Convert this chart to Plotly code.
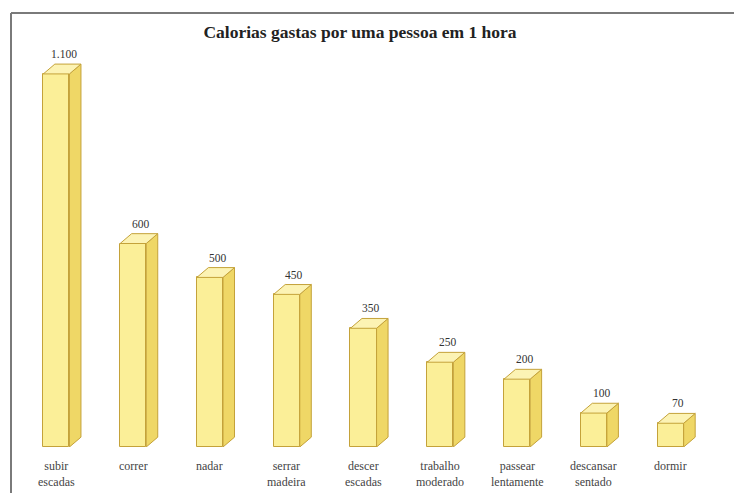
import plotly.graph_objects as go

# ---- data ----
categories = ["subir<br>escadas", "correr", "nadar", "serrar<br>madeira", "descer<br>escadas",
              "trabalho<br>moderado", "passear<br>lentamente", "descansar<br>sentado", "dormir"]
values = [1100, 600, 500, 450, 350, 250, 200, 100, 70]
value_labels = ["1.100", "600", "500", "450", "350", "250", "200", "100", "70"]
title_text = "Calorias gastas por uma pessoa em 1 hora"

# ---- style ----
W, H = 734, 493
ML, MR, MT, MB = 18, 25, 40, 46
YMAX = 1200
bar_w = 0.34          # front face width (category units)
dx = 0.15             # depth (category units)
dy = 29               # depth (value units)
front_col = "#FBEF98"
side_col = "#EFD766"
top_col = "#FCF3B4"
edge_col = "#C4A23A"
serif = "Liberation Serif, Times New Roman, serif"

xs = list(range(len(values)))

fig = go.Figure()

# front faces
fig.add_trace(go.Bar(x=xs, y=values, width=bar_w,
                     marker=dict(color=front_col, line=dict(color=edge_col, width=1)),
                     hoverinfo="skip", showlegend=False))

# side faces
sx, sy = [], []
for x, v in zip(xs, values):
    r = x + bar_w / 2
    sx += [r, r + dx, r + dx, r, r, None]
    sy += [0, dy, v + dy, v, 0, None]
fig.add_trace(go.Scatter(x=sx, y=sy, mode="lines", fill="toself", fillcolor=side_col,
                         line=dict(color=edge_col, width=1), hoverinfo="skip", showlegend=False))

# top faces
tx, ty = [], []
for x, v in zip(xs, values):
    l, r = x - bar_w / 2, x + bar_w / 2
    tx += [l, r, r + dx, l + dx, l, None]
    ty += [v, v, v + dy, v + dy, v, None]
fig.add_trace(go.Scatter(x=tx, y=ty, mode="lines", fill="toself", fillcolor=top_col,
                         line=dict(color=edge_col, width=1), hoverinfo="skip", showlegend=False))

annotations = []
# value labels
for x, v, lab in zip(xs, values, value_labels):
    annotations.append(dict(x=x + 0.1, y=v + dy, xref="x", yref="y", text=lab, showarrow=False,
                            yanchor="bottom", yshift=2,
                            font=dict(family=serif, size=11.5, color="#333")))
# category labels
for x, c in zip(xs, categories):
    annotations.append(dict(x=x, y=0, xref="x", yref="y", text=c, showarrow=False,
                            yanchor="top", yshift=-10,
                            font=dict(family=serif, size=12, color="#444")))

plotW = W - ML - MR
plotH = H - MT - MB
def px_to_paper_x(p):
    return (p - ML) / plotW
def px_to_paper_y(p):
    return (H - MB - p) / plotH

shapes = [
    dict(type="line", xref="paper", yref="paper",
         x0=px_to_paper_x(11), x1=px_to_paper_x(734), y0=px_to_paper_y(13), y1=px_to_paper_y(13),
         line=dict(color="#7a7a7a", width=2)),
    dict(type="line", xref="paper", yref="paper",
         x0=px_to_paper_x(11), x1=px_to_paper_x(11), y0=px_to_paper_y(13), y1=px_to_paper_y(493),
         line=dict(color="#7a7a7a", width=2)),
]

fig.update_layout(
    width=W, height=H,
    margin=dict(l=ML, r=MR, t=MT, b=MB),
    paper_bgcolor="white", plot_bgcolor="white",
    title=dict(text="<b>" + title_text + "</b>", x=360 / W, y=1 - 32 / H,
               xanchor="center", yanchor="middle", xref="container", yref="container",
               font=dict(family=serif, size=17.5, color="#222")),
    xaxis=dict(range=[-0.5, len(values) - 0.5], showticklabels=False, showgrid=False,
               zeroline=False, showline=False, ticks=""),
    yaxis=dict(range=[0, YMAX], visible=False, showgrid=False, zeroline=False),
    annotations=annotations,
    shapes=shapes,
    bargap=0,
)

fig.write_html("out.html")
